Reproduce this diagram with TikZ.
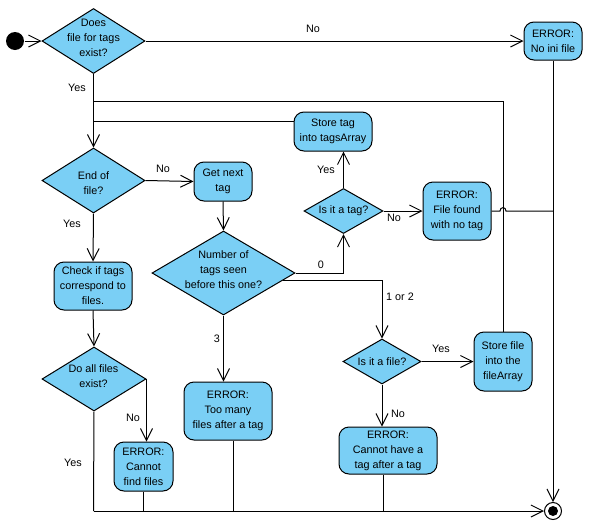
\documentclass[tikz,border=0pt]{standalone}
\usepackage{fontspec}
\setmainfont{Liberation Sans}
\usetikzlibrary{shapes.geometric,arrows.meta}
\definecolor{fillblue}{RGB}{122,207,245}
\begin{document}
\begin{tikzpicture}[x=1pt,y=-1pt,
  font=\fontsize{10.8}{15}\selectfont,
  line width=1pt,
  act/.style={draw, fill=fillblue, rounded corners=10pt, inner sep=0pt, align=center},
  dec/.style={draw, fill=fillblue, diamond, inner sep=0pt},
  dtext/.style={align=center, inner sep=0pt},
  lbl/.style={inner sep=0pt},
  flow/.style={-{Straight Barb[length=12pt,width=12pt]}}]
\useasboundingbox (0,0) rectangle (590,531);
% nodes
\node[circle, fill=black, minimum size=18pt, inner sep=0pt] (start) at (15,41) {};
\node[dec, minimum width=103pt, minimum height=65pt] (d1) at (93.5,41) {};
\node[dtext] (d1t) at (93.5,38) {Does\\file for tags\\exist?};
\node[act, minimum width=58pt, minimum height=38pt] (ini) at (553,41) {ERROR:\\No ini file};
\node[dec, minimum width=103pt, minimum height=65pt] (eof) at (93.5,180.5) {};
\node[dtext] (eoft) at (93.5,183) {End of\\file?};
\node[act, minimum width=58pt, minimum height=39pt] (next) at (223,181.5) {Get next\\tag};
\node[dec, minimum width=143pt, minimum height=84pt] (num) at (223.5,273) {};
\node[dtext] (numt) at (223.5,270) {Number of\\tags seen\\before this one?};
\node[dec, minimum width=79pt, minimum height=45pt] (istag) at (343.5,211) {};
\node[dtext] (istagt) at (343.5,211) {Is it a tag?};
\node[act, minimum width=78pt, minimum height=39pt] (store) at (333,131.5) {Store tag\\into tagsArray};
\node[act, minimum width=68pt, minimum height=58pt] (nofile) at (457,211) {ERROR:\\File found\\with no tag};
\node[act, minimum width=78pt, minimum height=48pt] (check) at (93,286) {Check if tags\\correspond to\\files.};
\node[dec, minimum width=104pt, minimum height=64pt] (allex) at (94,379) {};
\node[dtext] (allext) at (93.5,376) {Do all files\\exist?};
\node[act, minimum width=59pt, minimum height=49pt] (cantfind) at (143.5,466.5) {ERROR:\\Cannot\\find files};
\node[act, minimum width=88pt, minimum height=58pt] (toomany) at (228,411) {ERROR:\\Too many\\files after a tag};
\node[dec, minimum width=78pt, minimum height=45pt] (isfile) at (382,361.5) {};
\node[dtext] (isfilet) at (382,361.5) {Is it a file?};
\node[act, minimum width=58pt, minimum height=59pt] (storefile) at (503,361.5) {Store file\\into the\\fileArray};
\node[act, minimum width=98pt, minimum height=47pt] (canthave) at (388,450.5) {ERROR:\\Cannot have a\\tag after a tag};
\node[circle, draw, fill=white, minimum size=17pt, inner sep=0pt] (final) at (553,511) {};
\fill (final.center) circle (5pt);
% helper coordinates
\coordinate (m1) at (93.5,101);
\coordinate (m2) at (93.5,121);
\coordinate (bl) at (93.5,511);
\coordinate (t3) at (233,511);
\coordinate (t4) at (383,511);
% connectors
\draw[flow] (start) -- (d1.west);
\draw[flow] (d1.east) -- (ini.west);
\draw[flow] (ini.south) -- (final.north);
\draw[flow] (d1.south) -- (eof.north);
\draw (storefile.north) |- (m1);
\draw (store.west |- m2) -- (m2);
\draw[flow] (eof.east) -- (next.west);
\draw[flow] (next.south) -- (num.north);
\draw[flow] (eof.south) -- (check.north);
\draw[flow] (check.south) -- (allex.north);
\draw[flow] (allex.east) -- (allex.east |- cantfind.north);
\draw (allex.south) -- (bl);
\draw[flow] (bl) -- (final.west);
\draw (cantfind.south) -- (cantfind.south |- bl);
\draw[flow] (num.south) -- (num.south |- toomany.north);
\draw (t3 |- toomany.south) -- (t3);
\draw (t4 |- canthave.south) -- (t4);
\draw[flow] (num.east) -| (istag.south);
\draw[flow] (num.-7.9) -| (isfile.north);
\draw[flow] (istag.north) -- (istag.north |- store.south);
\draw[flow] (istag.east) -- (nofile.west);
\draw[flow] (isfile.east) -- (storefile.west);
\draw[flow] (isfile.south) -- (canthave.north -| isfile.south);
\draw (nofile.east) -- (500,211) .. controls (500,206.5) and (506,206.5) .. (506,211) -- (ini.south |- nofile.east);
% labels
\node[lbl] at (313,29) {No};
\node[lbl] at (77,88) {Yes};
\node[lbl] at (163,169) {No};
\node[lbl] at (72,224) {Yes};
\node[lbl] at (326,170) {Yes};
\node[lbl] at (394,218) {No};
\node[lbl] at (321,265) {0};
\node[lbl] at (400,297) {1 or 2};
\node[lbl] at (217,339) {3};
\node[lbl] at (441,349) {Yes};
\node[lbl] at (398,414) {No};
\node[lbl] at (133,418) {No};
\node[lbl] at (73,463) {Yes};
\end{tikzpicture}
\end{document}
